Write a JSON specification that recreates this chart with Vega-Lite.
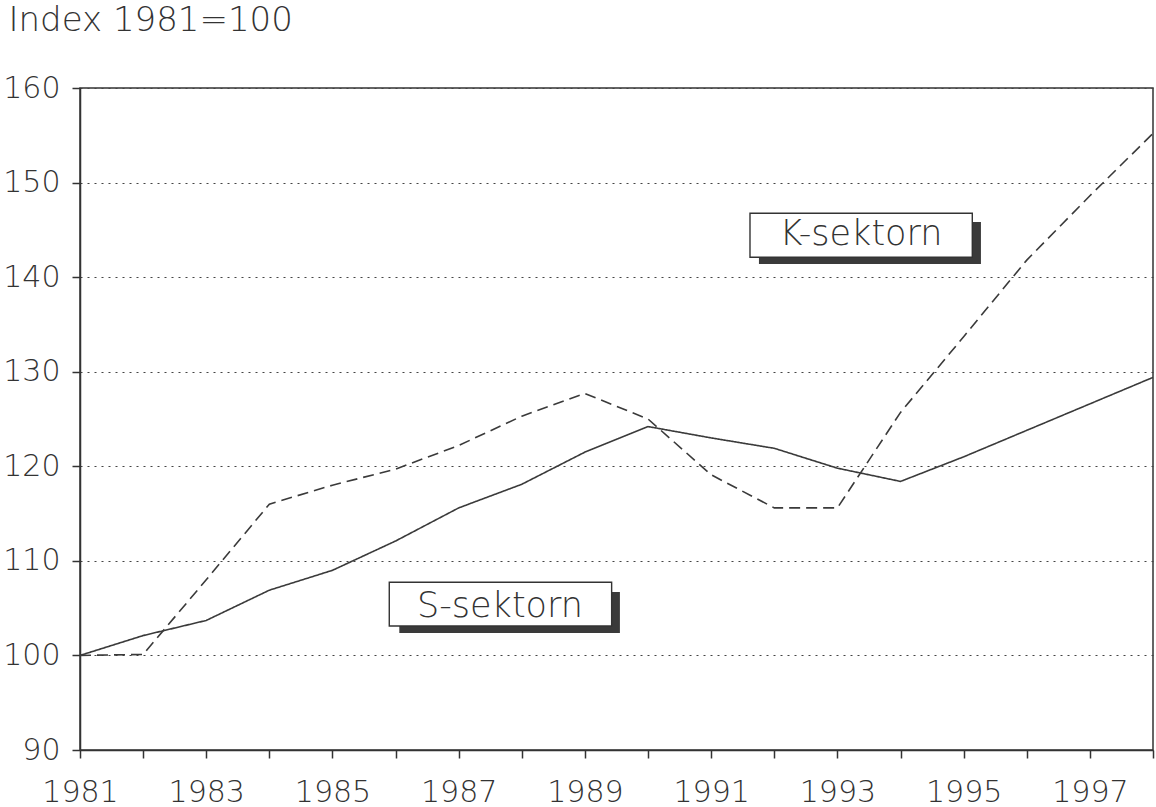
{
  "$schema": "https://vega.github.io/schema/vega-lite/v6.json",
  "width": 1073,
  "height": 662,
  "autosize": "none",
  "padding": {"left": 80, "top": 88, "right": 3, "bottom": 57},
  "background": "white",
  "config": {
    "view": {"stroke": "#333333", "strokeWidth": 1.5},
    "axis": {
      "labelFont": "DejaVu Sans",
      "labelFontWeight": 200,
      "labelFontSize": 30,
      "labelColor": "#333333",
      "titleFont": "DejaVu Sans",
      "titleFontSize": 34,
      "titleFontWeight": 200,
      "titleColor": "#333333",
      "domainColor": "#333333",
      "domainWidth": 1.5,
      "tickColor": "#333333",
      "tickWidth": 1.5,
      "tickSize": 8
    }
  },
  "layer": [
    {
      "data": {
        "values": [
          {"year": 1981, "sector": "S-sektorn", "value": 100.0},
          {"year": 1982, "sector": "S-sektorn", "value": 102.1},
          {"year": 1983, "sector": "S-sektorn", "value": 103.7},
          {"year": 1984, "sector": "S-sektorn", "value": 106.9},
          {"year": 1985, "sector": "S-sektorn", "value": 109.0},
          {"year": 1986, "sector": "S-sektorn", "value": 112.1},
          {"year": 1987, "sector": "S-sektorn", "value": 115.6},
          {"year": 1988, "sector": "S-sektorn", "value": 118.1},
          {"year": 1989, "sector": "S-sektorn", "value": 121.5},
          {"year": 1990, "sector": "S-sektorn", "value": 124.2},
          {"year": 1991, "sector": "S-sektorn", "value": 123.0},
          {"year": 1992, "sector": "S-sektorn", "value": 121.9},
          {"year": 1993, "sector": "S-sektorn", "value": 119.8},
          {"year": 1994, "sector": "S-sektorn", "value": 118.4},
          {"year": 1995, "sector": "S-sektorn", "value": 121.0},
          {"year": 1996, "sector": "S-sektorn", "value": 123.8},
          {"year": 1997, "sector": "S-sektorn", "value": 126.6},
          {"year": 1998, "sector": "S-sektorn", "value": 129.4},
          {"year": 1981, "sector": "K-sektorn", "value": 100.0},
          {"year": 1982, "sector": "K-sektorn", "value": 100.1},
          {"year": 1983, "sector": "K-sektorn", "value": 108.0},
          {"year": 1984, "sector": "K-sektorn", "value": 116.0},
          {"year": 1985, "sector": "K-sektorn", "value": 118.0},
          {"year": 1986, "sector": "K-sektorn", "value": 119.7},
          {"year": 1987, "sector": "K-sektorn", "value": 122.2},
          {"year": 1988, "sector": "K-sektorn", "value": 125.3},
          {"year": 1989, "sector": "K-sektorn", "value": 127.7},
          {"year": 1990, "sector": "K-sektorn", "value": 125.0},
          {"year": 1991, "sector": "K-sektorn", "value": 119.1},
          {"year": 1992, "sector": "K-sektorn", "value": 115.6},
          {"year": 1993, "sector": "K-sektorn", "value": 115.6},
          {"year": 1994, "sector": "K-sektorn", "value": 125.7},
          {"year": 1995, "sector": "K-sektorn", "value": 133.7},
          {"year": 1996, "sector": "K-sektorn", "value": 141.8},
          {"year": 1997, "sector": "K-sektorn", "value": 148.6},
          {"year": 1998, "sector": "K-sektorn", "value": 155.2}
        ]
      },
      "mark": {"type": "line", "color": "#3a3a3a", "strokeWidth": 1.6},
      "encoding": {
        "x": {
          "field": "year",
          "type": "quantitative",
          "scale": {"domain": [1981, 1998], "nice": false, "zero": false},
          "axis": {
            "title": null,
            "values": [1981, 1982, 1983, 1984, 1985, 1986, 1987, 1988, 1989, 1990, 1991, 1992, 1993, 1994, 1995, 1996, 1997, 1998],
            "format": "d",
            "labelExpr": "datum.value % 2 == 1 ? datum.label : ''",
            "labelFlush": false,
            "labelOverlap": false,
            "labelBound": false,
            "labelPadding": 19,
            "grid": false
          }
        },
        "y": {
          "field": "value",
          "type": "quantitative",
          "scale": {"domain": [90, 160], "nice": false, "zero": false},
          "axis": {
            "title": "Index  1981=100",
            "titleAngle": 0,
            "titleAlign": "left",
            "titleBaseline": "alphabetic",
            "titleX": -72,
            "titleY": -58,
            "values": [90, 100, 110, 120, 130, 140, 150, 160],
            "labelFlush": false,
            "labelOverlap": false,
            "labelPadding": 12,
            "grid": true,
            "gridDash": [2, 5],
            "gridColor": "#444444",
            "gridWidth": 1.2
          }
        },
        "strokeDash": {
          "field": "sector",
          "type": "nominal",
          "scale": {"domain": ["S-sektorn", "K-sektorn"], "range": [[1, 0], [11, 6]]},
          "legend": null
        }
      }
    },
    {
      "data": {"values": [{}]},
      "mark": {"type": "rect", "color": "#3a3a3a"},
      "encoding": {
        "x": {"datum": 1991.757, "type": "quantitative"},
        "x2": {"datum": 1995.274},
        "y": {"datum": 145.83, "type": "quantitative"},
        "y2": {"datum": 141.39}
      }
    },
    {
      "data": {"values": [{}]},
      "mark": {"type": "rect", "fill": "white", "stroke": "#333333", "strokeWidth": 1.4},
      "encoding": {
        "x": {"datum": 1991.615, "type": "quantitative"},
        "x2": {"datum": 1995.137},
        "y": {"datum": 146.75, "type": "quantitative"},
        "y2": {"datum": 142.10}
      }
    },
    {
      "data": {"values": [{}]},
      "mark": {"type": "rect", "color": "#3a3a3a"},
      "encoding": {
        "x": {"datum": 1986.059, "type": "quantitative"},
        "x2": {"datum": 1989.554},
        "y": {"datum": 106.71, "type": "quantitative"},
        "y2": {"datum": 102.37}
      }
    },
    {
      "data": {"values": [{}]},
      "mark": {"type": "rect", "fill": "white", "stroke": "#333333", "strokeWidth": 1.4},
      "encoding": {
        "x": {"datum": 1985.9, "type": "quantitative"},
        "x2": {"datum": 1989.423},
        "y": {"datum": 107.73, "type": "quantitative"},
        "y2": {"datum": 103.11}
      }
    },
    {
      "data": {"values": [{"label": "K-sektorn"}]},
      "mark": {"type": "text", "font": "DejaVu Sans", "fontWeight": 200, "fontSize": 35, "color": "#333333", "align": "center", "baseline": "alphabetic"},
      "encoding": {
        "x": {"datum": 1993.373, "type": "quantitative"},
        "y": {"datum": 143.40, "type": "quantitative"},
        "text": {"field": "label"}
      }
    },
    {
      "data": {"values": [{"label": "S-sektorn"}]},
      "mark": {"type": "text", "font": "DejaVu Sans", "fontWeight": 200, "fontSize": 35, "color": "#333333", "align": "center", "baseline": "alphabetic"},
      "encoding": {
        "x": {"datum": 1987.654, "type": "quantitative"},
        "y": {"datum": 104.09, "type": "quantitative"},
        "text": {"field": "label"}
      }
    }
  ]
}
